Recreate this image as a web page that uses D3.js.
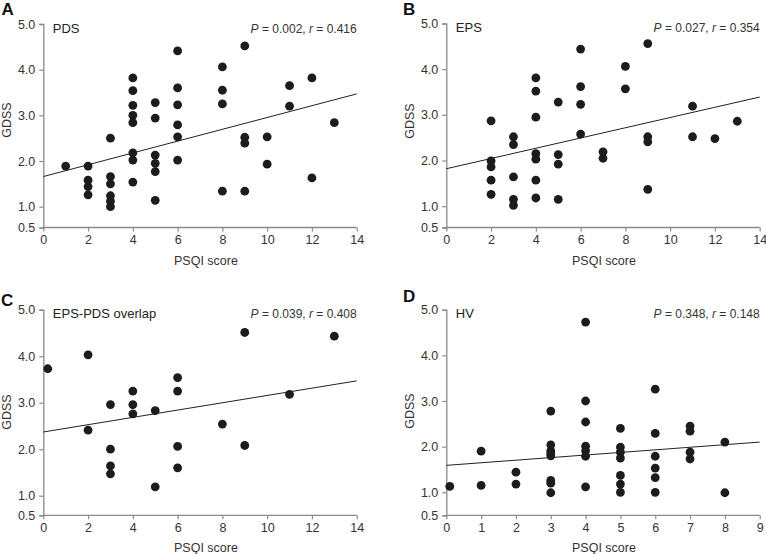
<!DOCTYPE html>
<html>
<head>
<meta charset="utf-8">
<script src="https://cdn.jsdelivr.net/npm/d3@7"></script>
<style>
  body { margin: 0; background: #fff; }
  svg { display: block; }
  text { font-family: "Liberation Sans", Arial, sans-serif; fill: #333; }
</style>
</head>
<body>
<svg id="chart" width="766" height="554"></svg>
<script>
// ---------- data ----------
const yTicks = [0.5, 1.0, 2.0, 3.0, 4.0, 5.0];
const xTicks14 = [0, 2, 4, 6, 8, 10, 12, 14];
const xTicks9 = [0, 1, 2, 3, 4, 5, 6, 7, 8, 9];

// A: PDS
const pdsX = [1, 2, 2, 2, 2, 3, 3, 3, 3, 3, 3, 4, 4, 4, 4, 4, 4, 4, 4, 5, 5, 5, 5, 5, 5, 6, 6, 6, 6, 6, 6, 8, 8, 8, 8, 9, 9, 9, 9, 10, 10, 11, 11, 12, 12, 13];
const pdsY = [1.89, 1.89, 1.58, 1.44, 1.26, 2.50, 1.66, 1.50, 1.24, 1.12, 1.00, 3.82, 3.54, 3.22, 3.00, 2.84, 2.18, 2.02, 1.54, 3.28, 2.94, 2.13, 1.95, 1.77, 1.14, 4.41, 3.60, 3.23, 2.79, 2.53, 2.02, 4.06, 3.55, 3.25, 1.34, 4.52, 2.52, 2.39, 1.34, 2.53, 1.93, 3.65, 3.20, 3.82, 1.63, 2.84];
const pdsLine = [[0, 1.66], [14, 3.47]];

// B: EPS
const epsX = [2, 2, 2, 2, 2, 3, 3, 3, 3, 3, 4, 4, 4, 4, 4, 4, 4, 5, 5, 5, 5, 6, 6, 6, 6, 7, 7, 8, 8, 9, 9, 9, 9, 11, 11, 12, 13];
const epsY = [2.87, 1.99, 1.86, 1.57, 1.26, 2.52, 2.35, 1.64, 1.15, 1.02, 3.81, 3.52, 2.95, 2.15, 2.03, 1.57, 1.18, 3.28, 2.13, 1.92, 1.15, 4.44, 3.62, 3.23, 2.58, 2.19, 2.05, 4.06, 3.57, 4.56, 2.52, 2.41, 1.37, 3.19, 2.52, 2.48, 2.86];
const epsLine = [[0, 1.82], [14, 3.39]];

// C: EPS-PDS overlap
const ovX = [0.2, 2, 2, 3, 3, 3, 3, 4, 4, 4, 5, 5, 6, 6, 6, 6, 8, 9, 9, 11, 13];
const ovY = [3.73, 4.03, 2.41, 2.96, 2.00, 1.64, 1.47, 3.25, 2.96, 2.76, 2.83, 1.19, 3.54, 3.25, 2.06, 1.60, 2.54, 4.51, 2.08, 3.18, 4.43];
const ovLine = [[0, 2.37], [14, 3.47]];

// D: HV
const hvX = [0.1, 1, 1, 2, 2, 3, 3, 3, 3, 3, 3, 3, 3, 4, 4, 4, 4, 4, 4, 4, 5, 5, 5, 5, 5, 5, 5, 6, 6, 6, 6, 6, 6, 7, 7, 7, 7, 8, 8];
const hvY = [1.13, 1.90, 1.15, 1.44, 1.18, 2.78, 2.04, 1.91, 1.85, 1.80, 1.26, 1.20, 0.99, 4.73, 3.00, 2.54, 2.01, 1.91, 1.79, 1.12, 2.40, 1.99, 1.88, 1.75, 1.37, 1.18, 1.00, 3.26, 2.29, 1.79, 1.53, 1.32, 1.00, 2.45, 2.34, 1.88, 1.73, 2.10, 0.99];
const hvLine = [[0, 1.59], [9, 2.10]];

const panels = [
  { letter: "A", name: "PDS", P: "0.002", r: "0.416", xs: pdsX, ys: pdsY, line: pdsLine, xMax: 14, xTicks: xTicks14,
    left: 43.3, right: 356.7, yR: [227.5, 206.7, 24], letterPos: [1.5, 15], labelX: 206, gdssY: 120 },
  { letter: "B", name: "EPS", P: "0.027", r: "0.354", xs: epsX, ys: epsY, line: epsLine, xMax: 14, xTicks: xTicks14,
    left: 446.3, right: 759.7, yR: [227.5, 206.2, 23.5], letterPos: [403, 15], labelX: 604, gdssY: 121 },
  { letter: "C", name: "EPS-PDS overlap", P: "0.039", r: "0.408", xs: ovX, ys: ovY, line: ovLine, xMax: 14, xTicks: xTicks14,
    left: 43.3, right: 356.7, yR: [515.3, 495.7, 309.7], letterPos: [1, 306], labelX: 206, gdssY: 412 },
  { letter: "D", name: "HV", P: "0.348", r: "0.148", xs: hvX, ys: hvY, line: hvLine, xMax: 9, xTicks: xTicks9,
    left: 446.3, right: 759.7, yR: [515.3, 492.3, 309.7], letterPos: [403, 302], labelX: 604, gdssY: 411 }
];

const svg = d3.select("#chart");
const axisColor = "#8a8a8a";

panels.forEach(p => {
  const x = d3.scaleLinear().domain([0, p.xMax]).range([p.left, p.right]);
  const y = d3.scaleLinear().domain([0.5, 1, 5]).range(p.yR);
  const g = svg.append("g");
  const base = y(0.5);

  // axes
  const ax = g.append("g").attr("transform", `translate(0,${base})`)
    .call(d3.axisBottom(x).tickValues(p.xTicks).tickSize(4).tickPadding(4).tickFormat(d3.format("d")));
  const ay = g.append("g").attr("transform", `translate(${p.left},0)`)
    .call(d3.axisLeft(y).tickValues(yTicks).tickSize(4).tickPadding(4).tickFormat(d3.format(".1f")));
  [ax, ay].forEach(a => {
    a.select(".domain").attr("stroke", axisColor).attr("stroke-width", 1.3);
    a.selectAll(".tick line").attr("stroke", axisColor).attr("stroke-width", 1.2);
    a.selectAll(".tick text").attr("fill", "#333").style("font-size", "12.5px")
      .style("font-family", '"Liberation Sans", Arial, sans-serif');
  });
  ax.selectAll(".domain").attr("d", `M${p.left},0H${p.right}`);

  // regression line
  g.append("path")
    .attr("d", d3.line().x(d => x(d[0])).y(d => y(d[1]))(p.line))
    .attr("stroke", "#222").attr("stroke-width", 1).attr("fill", "none");

  // points
  g.selectAll("circle").data(p.xs.map((v, i) => [v, p.ys[i]])).enter().append("circle")
    .attr("cx", d => x(d[0])).attr("cy", d => y(d[1])).attr("r", 4.4).attr("fill", "#1c1c1c");

  // panel letter
  g.append("text").attr("x", p.letterPos[0]).attr("y", p.letterPos[1])
    .style("font-size", "17px").style("font-weight", "bold").style("fill", "#111").text(p.letter);

  // subtitle
  g.append("text").attr("x", p.left + 9.5).attr("y", y(5) + 8.5)
    .style("font-size", "13px").style("fill", "#222").text(p.name);

  // stats
  const st = g.append("text").attr("x", p.right).attr("y", y(5) + 8.5).attr("text-anchor", "end")
    .style("font-size", "12px").style("fill", "#333");
  st.append("tspan").style("font-style", "italic").text("P");
  st.append("tspan").text(` = ${p.P}, `);
  st.append("tspan").style("font-style", "italic").text("r");
  st.append("tspan").text(` = ${p.r}`);

  // axis titles
  g.append("text").attr("x", p.labelX).attr("y", base + 37).attr("text-anchor", "middle")
    .style("font-size", "12.5px").style("fill", "#333").text("PSQI score");
  g.append("text").attr("transform", `translate(${p.left - 32.5},${p.gdssY}) rotate(-90)`)
    .attr("text-anchor", "middle").style("font-size", "12.5px").style("fill", "#333").text("GDSS");
});
</script>
</body>
</html>
